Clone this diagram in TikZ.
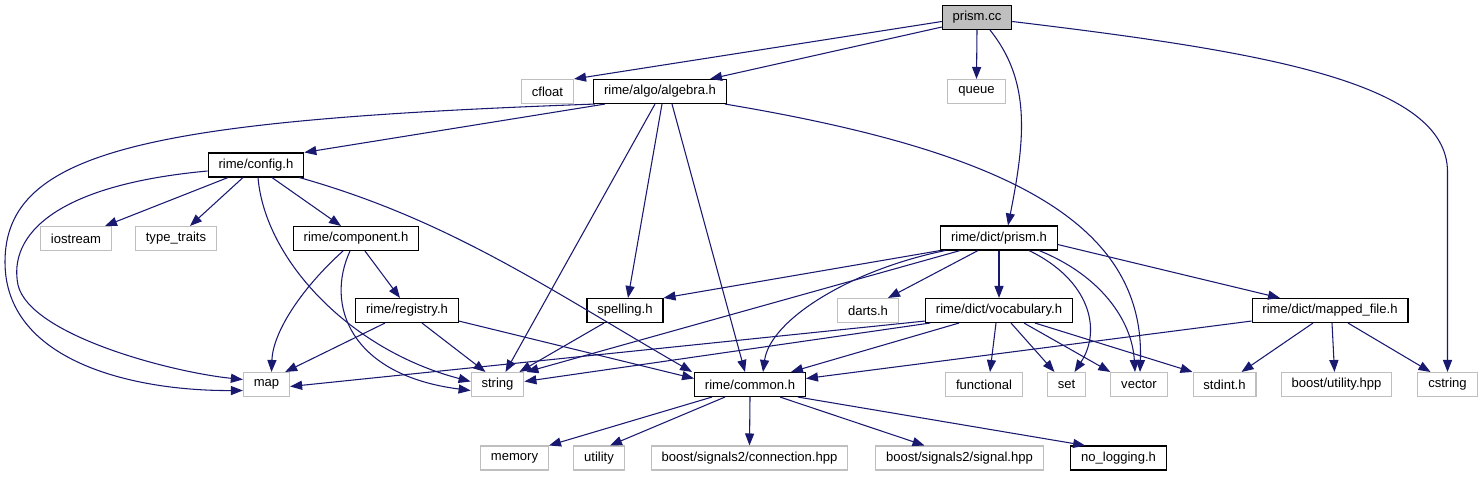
\documentclass[tikz,border=0pt]{standalone}
\usepackage{fontspec}
\setmainfont{Liberation Sans}
\usetikzlibrary{arrows.meta,calc}
\definecolor{edgeblue}{HTML}{191970}
\definecolor{grey75}{HTML}{BFBFBF}
\begin{document}
\begin{tikzpicture}[x=0.75pt,y=-0.75pt,
  box/.style={draw,rectangle,fill=white,line width=0.8pt,minimum height=18pt,
    inner xsep=7.8pt,inner ysep=0pt,font=\fontsize{9.8}{11}\selectfont},
  hdr/.style={box,draw=black},
  sys/.style={box,draw=grey75},
  root/.style={box,draw=black,fill=grey75},
  dep/.style={draw=edgeblue,line width=0.8pt,-{Triangle[length=9pt,width=6.8pt]}}]
  \useasboundingbox (0,0) rectangle (1483,476);
  % rank 0 and 1
  \node[root] (prismcc) at (977,17.5) {prism.cc};
  \node[sys] (cfloat) at (547.5,91.5) {cfloat};
  \node[hdr] (algebra) at (660,91.5) {rime/algo/algebra.h};
  \node[sys] (queue) at (976.5,91.5) {queue};
  % rank 2 and 3
  \node[hdr] (config) at (256,165) {rime/config.h};
  \node[sys] (iostream) at (76,238.5) {iostream};
  \node[sys] (typetraits) at (176,238.5) {type\_traits};
  \node[hdr] (component) at (356,238.5) {rime/component.h};
  \node[hdr] (prismh) at (999,238) {rime/dict/prism.h};
  % rank 4
  \node[hdr] (registry) at (407,310.5) {rime/registry.h};
  \node[hdr] (spelling) at (625,310.5) {spelling.h};
  \node[sys] (darts) at (868,310.5) {darts.h};
  \node[hdr] (vocab) at (999,310.5) {rime/dict/vocabulary.h};
  \node[hdr] (mapped) at (1330,310.5) {rime/dict/mapped\_file.h};
  % rank 5
  \node[sys] (map) at (266.5,384.5) {map};
  \node[sys] (string) at (497.5,384.5) {string};
  \node[hdr] (common) at (750,384.5) {rime/common.h};
  \node[sys] (functional) at (984,384.5) {functional};
  \node[sys] (set) at (1066.5,384.5) {set};
  \node[sys] (vector) at (1139,384.5) {vector};
  \node[sys] (stdint) at (1224.5,384.5) {stdint.h};
  \node[sys] (boostutil) at (1336.5,384.5) {boost/utility.hpp};
  \node[sys] (cstring) at (1447.5,384.5) {cstring};
  % rank 6
  \node[sys] (memory) at (514.5,458) {memory};
  \node[sys] (utility) at (599,458) {utility};
  \node[sys] (connection) at (749.5,458) {boost/signals2/connection.hpp};
  \node[sys] (signal) at (959.5,458) {boost/signals2/signal.hpp};
  \node[hdr] (nologging) at (1118.5,458) {no\_logging.h};

  % from prism.cc
  \draw[dep] ($(prismcc.west)+(0,4)$) -- (cfloat.north east);
  \draw[dep] ($(prismcc.south west)+(0,-3)$) -- ($(algebra.north)+(50,0)$);
  \draw[dep] (prismcc.south) -- (queue.north);
  \draw[dep] ($(prismcc.south)+(13,0)$) .. controls +(40,50) and +(18,-90) .. ($(prismh.north)+(9,0)$);
  \draw[dep] ($(prismcc.east)+(0,4)$) .. controls +(250,30) and +(0,-90) .. ($(cstring.north)+(0,-200)$) -- (cstring.north);
  % from rime/algo/algebra.h
  \draw[dep] ($(algebra.south west)+(12,0)$) -- (config.north east);
  \draw[dep] ($(algebra.south west)+(2,0)$) .. controls (150,120) and (5,150) .. (5,262)
    .. controls (5,360) and (130,391) .. ($(map.west)+(0,6)$);
  \draw[dep] ($(algebra.south)+(-5,0)$) -- ($(string.north)+(8,0)$);
  \draw[dep] ($(algebra.south)+(2,0)$) -- ($(spelling.north)+(3,0)$);
  \draw[dep] ($(algebra.south)+(12,0)$) -- ($(common.north)+(-5,0)$);
  \draw[dep] ($(algebra.south east)+(-2,0)$) .. controls (1000,150) and (1145,220) .. ($(vector.north)+(1,0)$);
  % from rime/config.h
  \draw[dep] ($(config.south)+(-28,0)$) -- ($(iostream.north)+(29,0)$);
  \draw[dep] ($(config.south)+(-13,0)$) -- ($(typetraits.north)+(14,0)$);
  \draw[dep] ($(config.south)+(16,0)$) -- ($(component.north)+(-15,0)$);
  \draw[dep] ($(config.west)+(0,6)$) .. controls (55,185) and (8,235) .. (18,285)
    .. controls (30,335) and (170,372) .. ($(map.west)+(0,-5)$);
  \draw[dep] ($(config.south)+(2,0)$) .. controls (265,260) and (350,350) .. ($(string.west)+(0,-3)$);
  \draw[dep] ($(config.south east)+(-5,0)$) .. controls (450,220) and (550,290) .. ($(common.north west)+(-2,0)$);
  % from rime/component.h
  \draw[dep] ($(component.south)+(-13,0)$) .. controls (305,285) and (273,330) .. ($(map.north)+(5,0)$);
  \draw[dep] ($(component.south)+(-6,0)$) .. controls (325,305) and (350,375) .. ($(string.west)+(0,6)$);
  \draw[dep] ($(component.south)+(9,0)$) -- ($(registry.north)+(-7,0)$);
  % from rime/registry.h
  \draw[dep] ($(registry.south)+(-22,0)$) -- ($(map.north east)+(-5,0)$);
  \draw[dep] ($(registry.south)+(15,0)$) -- ($(string.north)+(-12,0)$);
  \draw[dep] ($(registry.south east)+(0,-2)$) -- ($(common.west)+(0,-6)$);
  % from rime/dict/prism.h
  \draw[dep] (prismh.south west) -- (spelling.north east);
  \draw[dep] ($(prismh.south west)+(20,0)$) -- ($(string.north east)+(2,0)$);
  \draw[dep] ($(prismh.south west)+(5,0)$) .. controls (850,270) and (770,320) .. ($(common.north)+(13,0)$);
  \draw[dep] ($(prismh.south)+(-21,0)$) -- ($(darts.north)+(20,0)$);
  \draw[dep] (prismh.south) -- (vocab.north);
  \draw[dep] ($(prismh.south east)+(0,-6)$) -- ($(mapped.north)+(-50,0)$);
  \draw[dep] ($(prismh.south)+(30,0)$) .. controls (1090,280) and (1102,330) .. ($(set.north)+(8,0)$);
  \draw[dep] ($(prismh.south)+(40,0)$) .. controls (1100,275) and (1132,320) .. ($(vector.north)+(-4,0)$);
  % from spelling.h
  \draw[dep] ($(spelling.south)+(-21,0)$) -- ($(string.north east)+(-5,0)$);
  % from rime/dict/vocabulary.h
  \draw[dep] ($(vocab.south west)+(0,-2)$) -- ($(map.east)+(0,2)$);
  \draw[dep] ($(vocab.south west)+(5,0)$) -- ($(string.east)+(0,-3)$);
  \draw[dep] ($(vocab.south)+(-40,0)$) -- ($(common.north east)+(-15,0)$);
  \draw[dep] ($(vocab.south)+(-3,0)$) -- ($(functional.north)+(6,0)$);
  \draw[dep] ($(vocab.south)+(12,0)$) -- ($(set.north)+(-12,0)$);
  \draw[dep] ($(vocab.south)+(25,0)$) -- (vector.north west);
  \draw[dep] ($(vocab.south)+(36,0)$) -- (stdint.north west);
  % from rime/dict/mapped_file.h
  \draw[dep] ($(mapped.south west)+(0,-2)$) -- ($(common.east)+(0,-6)$);
  \draw[dep] ($(mapped.south)+(-17,0)$) -- ($(stdint.north)+(17,0)$);
  \draw[dep] ($(mapped.south)+(2,0)$) -- ($(boostutil.north)+(-2,0)$);
  \draw[dep] ($(mapped.south)+(18,0)$) -- ($(cstring.north)+(-17,0)$);
  % from rime/common.h
  \draw[dep] ($(common.south)+(-38,0)$) -- (memory.north east);
  \draw[dep] ($(common.south)+(-25,0)$) -- ($(utility.north)+(11,0)$);
  \draw[dep] (common.south) -- (connection.north);
  \draw[dep] ($(common.south)+(30,0)$) -- ($(signal.north)+(-35,0)$);
  \draw[dep] ($(common.south east)+(-8,0)$) -- ($(nologging.north west)+(15,0)$);
\end{tikzpicture}
\end{document}
